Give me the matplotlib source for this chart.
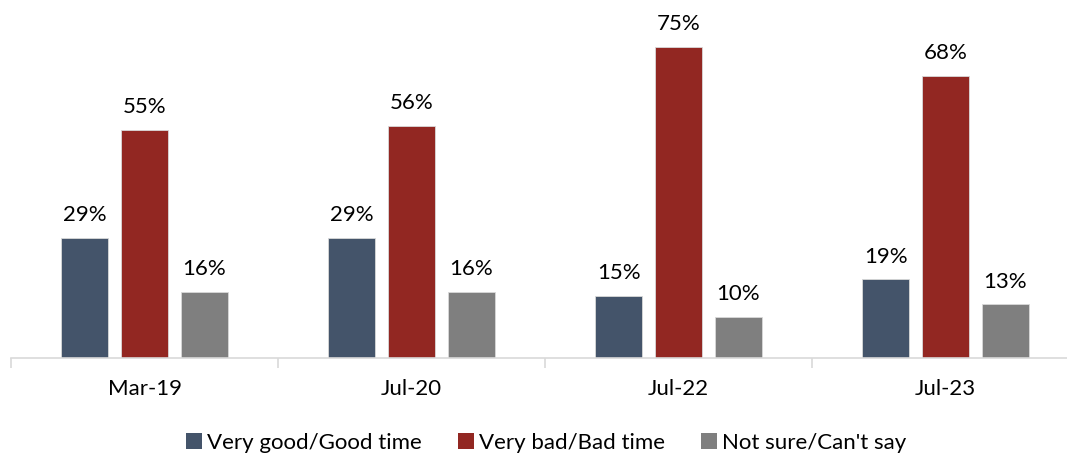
import matplotlib
matplotlib.use("Agg")
import matplotlib.pyplot as plt
import numpy as np
from matplotlib.patches import Patch

plt.rcParams['font.family'] = ['Lato', 'DejaVu Sans']

periods = ["Mar-19", "Jul-20", "Jul-22", "Jul-23"]
series_names = ["Very good/Good time", "Very bad/Bad time", "Not sure/Can't say"]
good = [29, 29, 15, 19]
bad = [55, 56, 75, 68]
unsure = [16, 16, 10, 13]
colors = ["#44546A", "#922722", "#7F7F7F"]

W, H = 1067, 453
fig = plt.figure(figsize=(W / 100, H / 100), dpi=100)
# plot area: left at x=11px, baseline at y=358px, groups 267px wide
ax = fig.add_axes([11 / W, (H - 358) / H, 1068 / W, (358 - 26) / H])

x = np.arange(len(periods)) + 0.5
width = 0.176
offset = 0.223
for i, (vals, col) in enumerate(zip([good, bad, unsure], colors)):
    pos = x + (i - 1) * offset
    bars = ax.bar(pos, vals, width=width, color=col, edgecolor="#D9D9D9",
                  linewidth=0.6, zorder=2)
    for b, v in zip(bars, vals):
        ax.annotate(f"{v}%", (b.get_x() + b.get_width() / 2, v),
                    xytext=(0, 9), textcoords="offset points",
                    ha="center", va="bottom", fontsize=16, color="#000000")

ax.set_xlim(0, 4)
ax.set_ylim(0, 80)
ax.set_yticks([])
for s in ["top", "right", "left"]:
    ax.spines[s].set_visible(False)
ax.spines["bottom"].set_color("#D9D9D9")
ax.spines["bottom"].set_linewidth(1.2)

# group dividers on the category axis
ax.set_xticks(np.arange(0, 5), minor=False)
ax.set_xticklabels([])
ax.tick_params(axis="x", which="major", length=7, color="#D9D9D9", width=1.2)
ax.set_xticks(x, minor=True)
ax.set_xticklabels(periods, minor=True, fontsize=16, color="#000000")
ax.tick_params(axis="x", which="minor", length=0, pad=15)

handles = [Patch(facecolor=c, edgecolor="none") for c in colors]
fig.legend(handles, series_names, loc="center",
           bbox_to_anchor=(0.512, (H - 443) / H),
           ncol=3, frameon=False, fontsize=16, handlelength=0.72, handleheight=0.72,
           handletextpad=0.25, columnspacing=1.6, borderpad=0)

fig.savefig("out.png", dpi=100)
